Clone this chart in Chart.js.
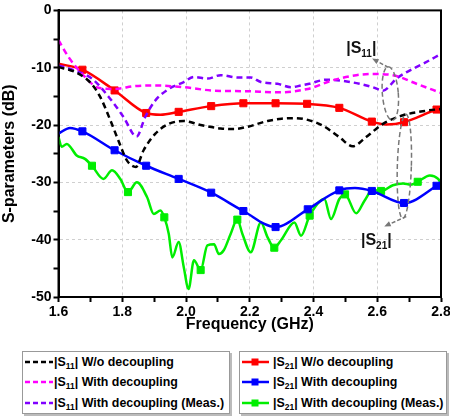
<!DOCTYPE html>
<html>
<head>
    <title>S-parameters</title>
    <script src="https://cdn.jsdelivr.net/npm/chart.js"></script>
    <style>
        body { margin: 0; width: 450px; height: 419px; overflow: hidden; background: #fff;
               font-family: 'Liberation Sans', Arial, sans-serif; }
        #wrap { position: absolute; left: 0; top: 0; width: 460px; height: 340px; }
        .legend { position: absolute; top: 351px; width: 206px; height: 61px; border: 1px solid #999;
                  box-shadow: 2px 2px 0 #bbb; background: #fff; font-weight: bold; font-size: 12.4px; }
        .legend .row { height: 20.3px; display: flex; align-items: center; white-space: nowrap; }
        .legend svg { flex: none; }
        .legend sub { font-size: 8.5px; vertical-align: -3px; line-height: 0; }
    </style>
</head>
<body>
<div id="wrap"><canvas id="myChart"></canvas></div>
<div class="legend" id="legLeft" style="left:22px"></div>
<div class="legend" id="legRight" style="left:239px"></div>
<script>
// |S11| W/o decoupling
const s11WoFreq = [1.6, 1.65, 1.7, 1.73, 1.76, 1.79, 1.815, 1.843, 1.867, 1.904, 1.946, 1.993, 2.046, 2.109,
    2.15, 2.193, 2.256, 2.3, 2.34, 2.382, 2.429, 2.481, 2.523, 2.565, 2.618, 2.681, 2.754, 2.8];
const s11Wo = [-9.9, -10.7, -12.6, -15.0, -18.8, -23.0, -26.2, -27.3, -24.4, -21.5, -19.8, -19.3, -20.0, -20.6,
    -20.7, -20.3, -19.3, -18.9, -18.8, -19.1, -20.1, -22.1, -23.7, -22.1, -19.8, -18.3, -17.5, -17.2];

// |S11| With decoupling
const s11WithFreq = [1.6, 1.631, 1.683, 1.725, 1.773, 1.841, 1.904, 1.993, 2.088, 2.193, 2.287, 2.382, 2.46,
    2.534, 2.586, 2.649, 2.723, 2.8];
const s11With = [-5.2, -8.1, -11.6, -13.5, -13.7, -13.2, -13.1, -13.4, -14.0, -14.1, -14.3, -13.7, -12.2,
    -11.3, -11.1, -11.3, -12.8, -14.4];

// |S11| With decoupling (Meas.)
const s11MeasFreq = [1.6, 1.652, 1.705, 1.762, 1.804, 1.845, 1.872, 1.904, 1.946, 1.993, 2.025, 2.067, 2.109,
    2.161, 2.203, 2.235, 2.287, 2.329, 2.361, 2.387, 2.439, 2.492, 2.544, 2.586, 2.618, 2.66, 2.691, 2.744, 2.8];
const s11Meas = [-9.6, -10.5, -11.9, -15.4, -18.6, -22.0, -18.6, -15.7, -13.7, -12.5, -11.6, -11.9, -11.3,
    -11.7, -11.7, -12.5, -12.8, -13.4, -13.1, -12.8, -12.1, -12.3, -12.8, -13.4, -14.0, -11.9, -10.8, -9.3, -7.6];

// |S21| W/o decoupling
const s21WoFreq = [1.6, 1.675, 1.776, 1.875, 1.92, 1.977, 2.079, 2.18, 2.281, 2.38, 2.481, 2.583, 2.63, 2.684, 2.786, 2.8];
const s21Wo = [-9.3, -10.35, -13.96, -17.9, -18.2, -17.7, -16.7, -16.2, -16.2, -16.3, -17.0, -19.4, -19.9, -19.5, -17.3, -17.1];
const s21WoMarks = [1.675, 1.776, 1.875, 1.977, 2.079, 2.18, 2.281, 2.38, 2.481, 2.583, 2.684, 2.786];

// |S21| With decoupling
const s21WithFreq = [1.6, 1.636, 1.675, 1.776, 1.875, 1.977, 2.079, 2.18, 2.281, 2.382, 2.481, 2.53, 2.583, 2.684, 2.786, 2.8];
const s21With = [-21.5, -20.5, -21.1, -24.4, -27.1, -29.4, -31.8, -35.0, -37.8, -34.7, -31.4, -31.0, -31.5, -33.6, -30.6, -30.0];
const s21WithMarks = [1.675, 1.776, 1.875, 1.977, 2.079, 2.18, 2.281, 2.382, 2.481, 2.583, 2.684, 2.786];

// |S21| With decoupling (Meas.)
const s21MeasFreq = [1.6, 1.61, 1.626, 1.657, 1.683, 1.705, 1.741, 1.768, 1.794, 1.818, 1.846, 1.878, 1.899,
    1.92, 1.932, 1.946, 1.957, 1.977, 1.993, 2.008, 2.025, 2.046, 2.067, 2.088, 2.103, 2.119, 2.14, 2.161,
    2.177, 2.203, 2.235, 2.256, 2.277, 2.298, 2.34, 2.361, 2.388, 2.434, 2.455, 2.481, 2.499, 2.534, 2.56,
    2.586, 2.612, 2.649, 2.681, 2.705, 2.727, 2.765, 2.791, 2.8];
const s21Meas = [-22.1, -23.8, -23.3, -25.3, -25.9, -27.1, -29.4, -27.9, -29.4, -31.7, -30.0, -32.6, -35.5,
    -34.9, -36.1, -39.0, -43.1, -40.4, -44.8, -48.6, -43.6, -45.3, -41.0, -40.8, -42.5, -41.8, -39.0, -36.5,
    -39.0, -42.2, -37.0, -39.6, -41.4, -40.1, -37.0, -39.3, -35.8, -32.9, -36.4, -32.9, -32.1, -35.4, -33.2,
    -31.3, -31.5, -30.5, -30.2, -30.4, -29.9, -28.8, -29.4, -30.2];
const s21MeasMarks = [1.705, 1.818, 1.932, 2.046, 2.161, 2.277, 2.388, 2.499, 2.612, 2.727];

const xTicks = ['1.6', '1.8', '2.0', '2.2', '2.4', '2.6', '2.8'];
const yTicks = ['0', '-10', '-20', '-30', '-40', '-50'];

const pts = (f, v) => f.map((x, i) => ({x: x, y: v[i]}));

function dashed(label, f, v, color) {
    return {
        label, data: pts(f, v), borderColor: color, backgroundColor: color,
        borderWidth: 2.5, borderDash: [6, 4], pointRadius: 0, cubicInterpolationMode: 'monotone'
    };
}
function marked(label, f, v, marks, color) {
    return {
        label, data: pts(f, v), borderColor: color, backgroundColor: color,
        borderWidth: 2.5, pointStyle: 'rect', pointBorderWidth: 1,
        pointRadius: c => marks.includes(c.raw.x) ? 5 : 0,
        cubicInterpolationMode: 'monotone'
    };
}

// gray dashed ellipses, arrows and |Sxx| labels, in data coordinates
const ellipses = [
    {f: 2.641, db: -14.5, rf: 0.025, rdb: 4.7, rot: -0.08},
    {f: 2.685, db: -27.2, rf: 0.022, rdb: 9.1, rot: 0.03}
];
const arrows = [
    {f1: 2.635, db1: -9.95, f2: 2.584, db2: -8.4},
    {f1: 2.691, db1: -35.95, f2: 2.622, db2: -37.7}
];
const notes = [
    {f: 2.55, db: -6.5, sub: '11'},
    {f: 2.597, db: -40.0, sub: '21'}
];

const decor = {
    id: 'decor',
    afterDraw(chart) {
        const {ctx, chartArea: a, scales: {x, y}} = chart;
        ctx.save();
        ctx.strokeStyle = '#000';
        ctx.lineWidth = 2;
        ctx.strokeRect(a.left, a.top, a.right - a.left, a.bottom - a.top);

        ctx.strokeStyle = '#777';
        ctx.fillStyle = '#777';
        ctx.lineWidth = 1.5;
        ctx.setLineDash([5, 3]);
        ellipses.forEach(e => {
            const cx = x.getPixelForValue(e.f), cy = y.getPixelForValue(e.db);
            const rx = x.getPixelForValue(e.f + e.rf) - cx;
            const ry = y.getPixelForValue(e.db - e.rdb) - cy;
            ctx.beginPath();
            ctx.ellipse(cx, cy, rx, ry, e.rot, 0, Math.PI * 2);
            ctx.stroke();
        });
        arrows.forEach(ar => {
            const x1 = x.getPixelForValue(ar.f1), y1 = y.getPixelForValue(ar.db1);
            const x2 = x.getPixelForValue(ar.f2), y2 = y.getPixelForValue(ar.db2);
            const ang = Math.atan2(y2 - y1, x2 - x1);
            ctx.setLineDash([4, 2]);
            ctx.beginPath();
            ctx.moveTo(x1, y1);
            ctx.lineTo(x2 - 5 * Math.cos(ang), y2 - 5 * Math.sin(ang));
            ctx.stroke();
            ctx.setLineDash([]);
            ctx.beginPath();
            ctx.moveTo(x2, y2);
            ctx.lineTo(x2 - 7 * Math.cos(ang - 0.4), y2 - 7 * Math.sin(ang - 0.4));
            ctx.lineTo(x2 - 7 * Math.cos(ang + 0.4), y2 - 7 * Math.sin(ang + 0.4));
            ctx.closePath();
            ctx.fill();
        });

        ctx.fillStyle = '#111';
        ctx.textBaseline = 'alphabetic';
        notes.forEach(n => {
            const big = 'bold 16px "Liberation Sans", Arial, sans-serif';
            const small = 'bold 10px "Liberation Sans", Arial, sans-serif';
            ctx.font = big;
            const w1 = ctx.measureText('|S').width, w3 = ctx.measureText('|').width;
            ctx.font = small;
            const w2 = ctx.measureText(n.sub).width;
            let px = x.getPixelForValue(n.f) - (w1 + w2 + w3) / 2;
            const base = y.getPixelForValue(n.db) + 5;
            ctx.font = big;
            ctx.fillText('|S', px, base);
            ctx.font = small;
            ctx.fillText(n.sub, px + w1, base + 4);
            ctx.font = big;
            ctx.fillText('|', px + w1 + w2, base);
        });
        ctx.restore();
    }
};

const tickFont = {family: '"Liberation Sans", Arial, sans-serif', size: 14, weight: 'bold'};
const titleFont = {family: '"Liberation Sans", Arial, sans-serif', size: 16, weight: 'bold'};

new Chart(document.getElementById('myChart'), {
    type: 'line',
    data: {
        datasets: [
            dashed('|S11| W/o decoupling', s11WoFreq, s11Wo, '#000000'),
            dashed('|S11| With decoupling', s11WithFreq, s11With, '#ff00ff'),
            dashed('|S11| With decoupling (Meas.)', s11MeasFreq, s11Meas, '#8000ff'),
            marked('|S21| W/o decoupling', s21WoFreq, s21Wo, s21WoMarks, '#ff0000'),
            marked('|S21| With decoupling', s21WithFreq, s21With, s21WithMarks, '#0000ff'),
            marked('|S21| With decoupling (Meas.)', s21MeasFreq, s21Meas, s21MeasMarks, '#00ee00')
        ]
    },
    options: {
        responsive: true,
        maintainAspectRatio: false,
        animation: false,
        events: [],
        layout: {padding: {left: 0, right: 19, top: 10, bottom: 0}},
        plugins: {legend: {display: false}, tooltip: {enabled: false}},
        scales: {
            x: {
                type: 'linear', min: 1.6, max: 2.8,
                afterFit: s => { s.height = 43; },
                ticks: {
                    stepSize: 0.1, autoSkip: false, maxRotation: 0, padding: 2,
                    color: '#000', font: tickFont,
                    callback: (v, i) => i % 2 === 0 ? xTicks[i / 2] : ''
                },
                grid: {
                    color: c => c.index % 2 === 0 ? '#cfcfcf' : 'rgba(0,0,0,0)',
                    lineWidth: 1, tickLength: 5, tickColor: '#000', tickWidth: 2
                },
                border: {color: '#000', width: 2, dash: [3, 3]},
                title: {display: true, text: 'Frequency (GHz)', color: '#000', font: titleFont,
                        padding: {top: 0, bottom: 6}}
            },
            y: {
                min: -50, max: 0,
                afterFit: s => { s.width = 58.5; },
                ticks: {
                    stepSize: 5, autoSkip: false, padding: 2, color: '#000', font: tickFont,
                    callback: (v, i) => i % 2 === 0 ? yTicks[5 - i / 2] : ''
                },
                grid: {
                    color: c => c.index % 2 === 0 ? '#cfcfcf' : 'rgba(0,0,0,0)',
                    lineWidth: 1, tickLength: 5, tickColor: '#000', tickWidth: 2
                },
                border: {color: '#000', width: 2, dash: [3, 3]},
                title: {display: true, text: 'S-parameters (dB)', color: '#000', font: titleFont,
                        padding: {top: 0, bottom: 0}}
            }
        }
    },
    plugins: [decor]
});

// legend boxes below the plot
const legendLeft = [
    ['#000000', 'W/o decoupling'],
    ['#ff00ff', 'With decoupling'],
    ['#8000ff', 'With decoupling (Meas.)']
];
const legendRight = [
    ['#ff0000', 'W/o decoupling'],
    ['#0000ff', 'With decoupling'],
    ['#00ee00', 'With decoupling (Meas.)']
];
document.getElementById('legLeft').innerHTML = legendLeft.map(([c, t]) =>
    '<div class="row"><svg width="30" height="10" style="margin-left:1px">' +
    '<line x1="1" y1="5" x2="29" y2="5" stroke="' + c + '" stroke-width="2.5" stroke-dasharray="5,3"/></svg>' +
    '<span>|S<sub>11</sub>| ' + t + '</span></div>').join('');
document.getElementById('legRight').innerHTML = legendRight.map(([c, t]) =>
    '<div class="row"><svg width="30" height="10" style="margin-left:1px;margin-right:2px">' +
    '<line x1="1" y1="5" x2="28" y2="5" stroke="' + c + '" stroke-width="2.5"/>' +
    '<rect x="10.5" y="1.5" width="7" height="7" fill="' + c + '"/></svg>' +
    '<span>|S<sub>21</sub>| ' + t + '</span></div>').join('');
</script>
</body>
</html>
